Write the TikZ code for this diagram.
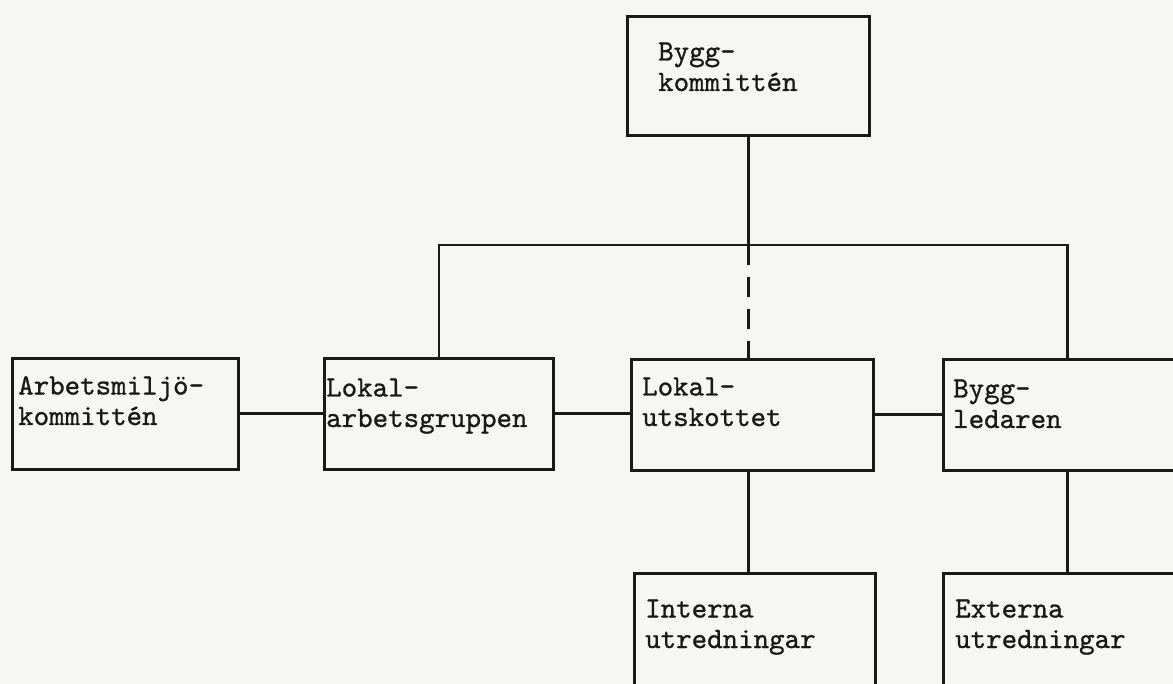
\documentclass[tikz,border=0pt]{standalone}
\usepackage{fontspec}
\usetikzlibrary{calc}
\newfontfamily\typew{lmmono10-regular.otf}[FakeBold=0.9]
\definecolor{paper}{RGB}{246,246,244}
\definecolor{ink}{RGB}{25,25,25}
\begin{document}
\begin{tikzpicture}[x=1pt,y=-1pt,
  orgbox/.style={draw=ink, line width=2.8pt, rectangle, inner sep=0pt, anchor=north west},
  lbl/.style={font=\typew\fontsize{29.5}{30.5}\selectfont, text=ink, align=left, inner sep=0pt, anchor=base west},
  link/.style={draw=ink, line width=2.8pt},
  dashlink/.style={draw=ink, line width=2.8pt, dash pattern=on 20pt off 12pt}]
\fill[paper] (0,0) rectangle (1173,684);
\useasboundingbox (0,0) rectangle (1173,684);
\clip (0,0) rectangle (1173,684);
% boxes
\node[orgbox, minimum width=242pt, minimum height=119pt] (top) at (626,15) {};
\node[orgbox, minimum width=226pt, minimum height=111pt] (arb) at (11,357) {};
\node[orgbox, minimum width=229pt, minimum height=111pt] (lag) at (323,357) {};
\node[orgbox, minimum width=242pt, minimum height=111pt] (lu) at (630,358) {};
\node[orgbox, minimum width=248pt, minimum height=111pt] (bl) at (942,358) {};
\node[orgbox, minimum width=241pt, minimum height=150pt] (int) at (633,572) {};
\node[orgbox, minimum width=248pt, minimum height=150pt] (ext) at (942,572) {};
% labels (anchor = baseline of the last line)
\node[lbl] (ttop) at (658,91) {Bygg-\\kommittén};
\node[lbl] (tarb) at (18,425) {Arbetsmiljö-\\kommittén};
\node[lbl] (tlag) at (326,427) {Lokal-\\arbetsgruppen};
\node[lbl] (tlu) at (642,426) {Lokal-\\utskottet};
\node[lbl] (tbl) at (953,428) {Bygg-\\ledaren};
\node[lbl] (tint) at (645,648) {Interna\\utredningar};
\node[lbl] (text) at (955,648) {Externa\\utredningar};
% connectors
\coordinate (hb) at (top.south |- 0,245);
\draw[link] (top.south) -- (hb);
\draw[link] (lag.north) |- (hb) -| (bl.north);
\draw[dashlink] (hb) -- (hb |- lu.north);
\draw[link] (arb.east) -- (lag.west);
\draw[link] (lag.east) -- (lu.west |- lag.east);
\draw[link] (lu.east) -- (bl.west |- lu.east);
\draw[link] (lu.south -| hb) -- (int.north -| hb);
\draw[link] (bl.south) -- (ext.north);
\end{tikzpicture}
\end{document}
